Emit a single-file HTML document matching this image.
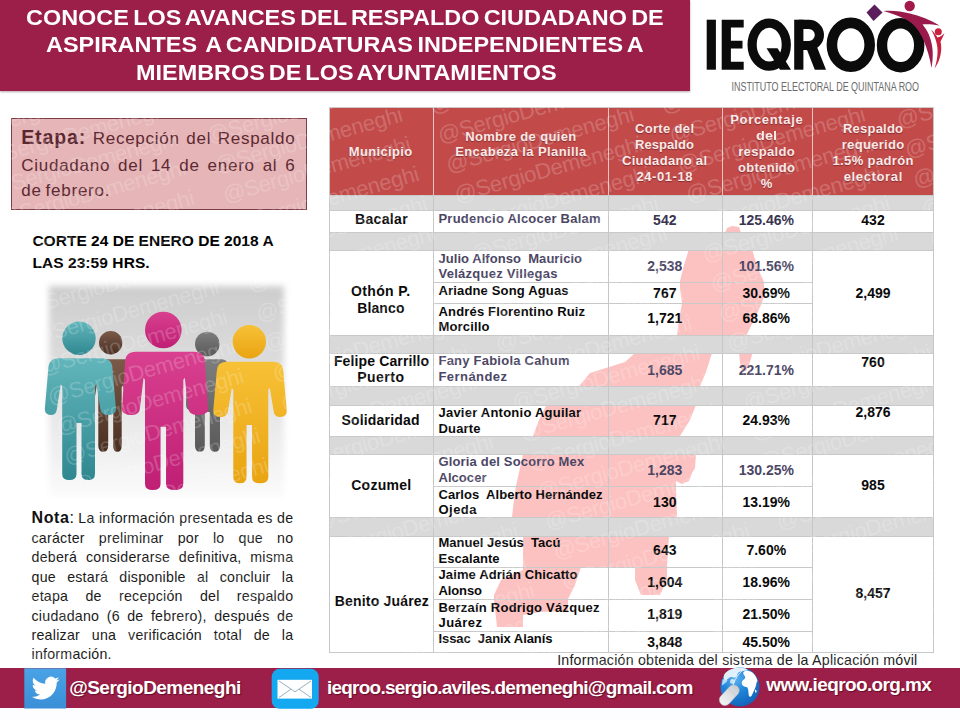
<!DOCTYPE html>
<html lang="es">
<head>
<meta charset="utf-8">
<title>IEQROO - Avances del respaldo ciudadano</title>
<style>
html,body{margin:0;padding:0;}
body{width:960px;height:720px;position:relative;overflow:hidden;background:#ffffff;font-family:"Liberation Sans",sans-serif;}
.abs{position:absolute;}
.t{position:absolute;white-space:pre;line-height:1;transform-origin:0 50%;}
.hdr{position:absolute;left:0;top:0;width:690px;height:91px;background:#9c1f49;box-shadow:0 1px 2px rgba(90,60,70,.45);}
.etapa{position:absolute;left:11px;top:118px;width:294px;height:90px;background:#e6b5b7;border:1px solid #7d3d48;}
.foot{position:absolute;left:0;top:668px;width:960px;height:40px;background:#9c1f49;}
.below{position:absolute;left:0;top:708px;width:960px;height:12px;background:#fdfdff;}
.th{position:absolute;top:107px;height:88px;background:#c24b4a;}
.gr{position:absolute;left:329px;width:604px;background:#d9d9d9;}
.vl{position:absolute;width:1px;background:#c6c6c6;}
.hl{position:absolute;height:1px;background:#c9c9c9;}
</style>
</head>
<body>
<div class="hdr"></div>
<div class="etapa"></div>
<div class="foot"></div>
<div class="below"></div>
<svg class="abs" style="left:0;top:0" width="960" height="720" viewBox="0 0 960 720">
<g fill="#fcc2c1">
<path d="M725 233 L727 228 L732 226 L739 227 L741 233 Z"/>
<path d="M689 249 L752 249 L757 266 L764 282 L764 297 L761 305 L755 318 L746 336 L738 345 L712 353 L706 372 L700 386 L697 398 L696 405 L690 420 L680 436 L686 446 L696 454 L695 468 L692 473 L689 481 L682 484 L676 481 L676 487 L677 516 L672 530 L669 536 L667 567 L667 580 L660 595 L641 595 L635 580 L635 567 L581 567 L575 585 L568 599 L568 611 L540 612 L523 615 L523 627 L497 627 L494 600 L494 595 L501 580 L523 570 L523 537 L518 528 L512 517 L514 500 L516 486 L523 454 L525 445 L533 436 L539 420 L546 406 L580 385 L590 373 L625 362 L635 353 L677 336 L679 320 L682 303 L680 290 L680 281 L684 265 Z"/>
<path d="M739 353 L752.5 353 L750 362 L746 371 L742 371 L740 362 Z"/>
</g>
</svg>
<div class="th" style="left:329px;width:104px"></div>
<div class="th" style="left:433px;width:175px"></div>
<div class="th" style="left:608px;width:114px"></div>
<div class="th" style="left:722px;width:90px"></div>
<div class="th" style="left:812px;width:121px"></div>
<div class="gr" style="top:195px;height:15px"></div>
<div class="gr" style="top:232px;height:18px"></div>
<div class="gr" style="top:335px;height:18px"></div>
<div class="gr" style="top:386px;height:19px"></div>
<div class="gr" style="top:436px;height:18px"></div>
<div class="gr" style="top:517px;height:19px"></div>
<div class="vl" style="left:329px;top:107px;height:545px"></div>
<div class="vl" style="left:433px;top:107px;height:545px"></div>
<div class="vl" style="left:608px;top:107px;height:545px"></div>
<div class="vl" style="left:722px;top:107px;height:545px"></div>
<div class="vl" style="left:812px;top:107px;height:545px"></div>
<div class="vl" style="left:933px;top:107px;height:545px"></div>
<div class="vl" style="left:433px;top:107px;height:88px;background:#e9c4c3"></div>
<div class="vl" style="left:608px;top:107px;height:88px;background:#e9c4c3"></div>
<div class="vl" style="left:722px;top:107px;height:88px;background:#e9c4c3"></div>
<div class="vl" style="left:812px;top:107px;height:88px;background:#e9c4c3"></div>
<div class="hl" style="left:329px;top:107px;width:605px"></div>
<div class="hl" style="left:329px;top:195px;width:605px"></div>
<div class="hl" style="left:329px;top:210px;width:605px"></div>
<div class="hl" style="left:329px;top:232px;width:605px"></div>
<div class="hl" style="left:329px;top:250px;width:605px"></div>
<div class="hl" style="left:329px;top:335px;width:605px"></div>
<div class="hl" style="left:329px;top:353px;width:605px"></div>
<div class="hl" style="left:329px;top:386px;width:605px"></div>
<div class="hl" style="left:329px;top:405px;width:605px"></div>
<div class="hl" style="left:329px;top:436px;width:605px"></div>
<div class="hl" style="left:329px;top:454px;width:605px"></div>
<div class="hl" style="left:329px;top:517px;width:605px"></div>
<div class="hl" style="left:329px;top:536px;width:605px"></div>
<div class="hl" style="left:329px;top:652px;width:605px"></div>
<div class="hl" style="left:433px;top:282px;width:379px"></div>
<div class="hl" style="left:433px;top:303px;width:379px"></div>
<div class="hl" style="left:433px;top:486px;width:379px"></div>
<div class="hl" style="left:433px;top:567px;width:379px"></div>
<div class="hl" style="left:433px;top:599px;width:379px"></div>
<div class="hl" style="left:433px;top:631px;width:379px"></div>
<svg class="abs" style="left:690px;top:0" width="270" height="100" viewBox="690 0 270 100">
<g fill="#0b0b0b">
<rect x="706.7" y="19.7" width="9.2" height="50"/>
<path d="M721.7 19.7 H743.7 V27.6 H730.9 V40.8 H742.5 V48.4 H730.9 V61.8 H743.7 V69.7 H721.7 Z"/>
<polygon points="766.5,48.3 777.5,48.3 791,69.7 780,69.7"/>
<rect x="794.2" y="19.7" width="9.2" height="50"/>
<polygon points="806.5,48.5 817,47 826,69.7 814.8,69.7"/>
</g>
<g fill="none" stroke="#0b0b0b">
<ellipse cx="769.2" cy="44.7" rx="17.1" ry="21.5" stroke-width="9.2"/>
<path d="M799 24.3 H808.8 A10.6 10.6 0 0 1 808.8 45.5 H799" stroke-width="9.2"/>
<ellipse cx="850.8" cy="44.8" rx="18.9" ry="21.9" stroke-width="10.6"/>
<ellipse cx="900.6" cy="45.2" rx="18.6" ry="22" stroke-width="10.4"/>
</g>
<!-- purple diamond -->
<polygon points="874.5,4.5 882.5,12.5 873.5,21 866.5,12.5" fill="#5b1d5c"/>
<!-- maroon figure -->
<circle cx="909.7" cy="6" r="5.2" fill="#a3194b"/>
<path d="M883.5 11 C892 10 902 11.5 910 13.5 C921 16 931 20.5 939.5 25.5 C933 24.5 927 24 922.5 24.5 C930 33 935.5 48 931.5 68 C930 58 927 48 923 39 C919 30 913 23 906 19.5 C899 16 891 13 883.5 11 Z" fill="#9a1b4b"/>
<!-- small red figure -->
<circle cx="938.3" cy="31.7" r="3.5" fill="#c6213f"/>
<path d="M931 29.5 C934 32 936 35 937.5 37.5 C941 36.5 942.5 35 944.5 33 C943 37 941.5 39.5 940.5 41.5 C942.5 50 940.5 60 934.5 68.5 C938 58 938.5 49 936 41 C935 37 933 33 931 29.5 Z" fill="#c6213f"/>
<text x="731.5" y="91.3" font-family="Liberation Sans, sans-serif" font-size="12.6" fill="#6b6b6b" textLength="187.5" lengthAdjust="spacingAndGlyphs">INSTITUTO ELECTORAL DE QUINTANA ROO</text>
</svg>
<svg class="abs" style="left:30px;top:270px" width="280" height="245" viewBox="30 270 280 245">
<defs>
<linearGradient id="bgg" x1="0" y1="0" x2="0" y2="1"><stop offset="0" stop-color="#cdcdcd"/><stop offset="0.55" stop-color="#e4e4e4"/><stop offset="1" stop-color="#fbfbfb"/></linearGradient>
<filter id="bl" x="-10%" y="-10%" width="120%" height="120%"><feGaussianBlur stdDeviation="3.2"/></filter>
<linearGradient id="gt" x1="0" y1="0" x2="0" y2="1"><stop offset="0" stop-color="#62b6bb"/><stop offset="1" stop-color="#2f8790"/></linearGradient>
<linearGradient id="gb" x1="0" y1="0" x2="0" y2="1"><stop offset="0" stop-color="#7b5a48"/><stop offset="1" stop-color="#4a2f22"/></linearGradient>
<linearGradient id="gp" x1="0" y1="0" x2="0" y2="1"><stop offset="0" stop-color="#d9408f"/><stop offset="1" stop-color="#bf1f74"/></linearGradient>
<linearGradient id="gg" x1="0" y1="0" x2="0" y2="1"><stop offset="0" stop-color="#7d7d7d"/><stop offset="1" stop-color="#5a5a5a"/></linearGradient>
<linearGradient id="gy" x1="0" y1="0" x2="0" y2="1"><stop offset="0" stop-color="#f7c136"/><stop offset="1" stop-color="#e9a412"/></linearGradient>
</defs>
<rect x="49" y="286" width="235" height="211" fill="url(#bgg)" filter="url(#bl)"/>
<g fill="url(#gb)"><circle cx="110.7" cy="342.7" r="11.7"/><path d="M96 359.3 H125 Q131 359.3 131 365.3 L132 404 Q132 410 127.35 410 Q126.2 410 126.03333333333333 403 L123.2 385.3 L121.7 387.3 L121.7 445.7 Q121.7 451.7 117.45 451.7 Q113.2 451.7 113.2 445.7 L113.2 412 L108.2 412 L108.2 445.7 Q108.2 451.7 103.25 451.7 Q98.3 451.7 98.3 445.7 L98.3 387.3 L96.8 385.3 L93.96666666666667 403 Q93.8 410 93.15 410 Q89 410 89 404 L90 365.3 Q90 359.3 96 359.3 Z"/></g>
<g fill="url(#gg)"><circle cx="207.3" cy="344" r="12.3"/><path d="M193 359.3 H221.5 Q227.5 359.3 227.5 365.3 L228.5 404 Q228.5 410 224.75 410 Q224.5 410 224.33333333333334 403 L221.5 385.3 L220 387.3 L220 445.7 Q220 451.7 214.9 451.7 Q209.8 451.7 209.8 445.7 L209.8 412 L204.8 412 L204.8 445.7 Q204.8 451.7 199.9 451.7 Q195 451.7 195 445.7 L195 387.3 L193.5 385.3 L190.66666666666666 403 Q190.5 410 190.0 410 Q186 410 186 404 L187 365.3 Q187 359.3 193 359.3 Z"/></g>
<g fill="url(#gt)"><circle cx="79" cy="338.3" r="16.7"/><path d="M59.3 358.3 H101.5 Q112.5 358.3 112.5 369.3 L116.0 409 Q116.0 415 107.25 415 Q100.75 415 100.16666666666667 408 L96.5 384.3 L95 386.3 L95 474 Q95 480 88.25 480 Q81.5 480 81.5 474 L81.5 423 L76.5 423 L76.5 474 Q76.5 480 69.35 480 Q62.2 480 62.2 474 L62.2 386.3 L60.7 384.3 L57.03333333333334 408 Q56.45 415 51.75 415 Q44.8 415 44.8 409 L48.3 369.3 Q48.3 358.3 59.3 358.3 Z"/></g>
<g fill="url(#gy)"><circle cx="249.3" cy="341.7" r="16.7"/><path d="M226.7 361.7 H273.3 Q283.3 361.7 283.3 371.7 L286.8 411 Q286.8 417 279.3 417 Q274.05 417 273.4666666666667 410 L269.8 387.7 L268.3 389.7 L268.3 477.3 Q268.3 483.3 260.175 483.3 Q252.05 483.3 252.05 477.3 L252.05 425 L246.55 425 L246.55 477.3 Q246.55 483.3 239.925 483.3 Q233.3 483.3 233.3 477.3 L233.3 389.7 L231.8 387.7 L228.13333333333335 410 Q227.55 417 221.5 417 Q213.2 417 213.2 411 L216.7 371.7 Q216.7 361.7 226.7 361.7 Z"/></g>
<g fill="url(#gp)"><circle cx="163.3" cy="330" r="18.3"/><path d="M136 351.7 H194 Q205 351.7 205 362.7 L208 409 Q208 415 197.15 415 Q188.8 415 188.3 408 L184.8 377.7 L183.3 379.7 L183.3 484 Q183.3 490 174.675 490 Q166.05 490 166.05 484 L166.05 426.7 L160.55 426.7 L160.55 484 Q160.55 490 152.775 490 Q145 490 145 484 L145 379.7 L143.5 377.7 L140.0 408 Q139.5 415 132.0 415 Q122 415 122 409 L125 362.7 Q125 351.7 136 351.7 Z"/></g>
</svg>
<svg class="abs" style="left:0;top:660px" width="960" height="60" viewBox="0 660 960 60">
<defs>
<linearGradient id="tw" x1="0" y1="0" x2="0" y2="1"><stop offset="0" stop-color="#4aa3e6"/><stop offset="1" stop-color="#3a8fd6"/></linearGradient>
<radialGradient id="gl" cx="0.38" cy="0.28" r="0.8"><stop offset="0" stop-color="#5fb3f0"/><stop offset="0.45" stop-color="#1f84d8"/><stop offset="1" stop-color="#0f5fb5"/></radialGradient>
<linearGradient id="ms" x1="0" y1="0" x2="1" y2="0"><stop offset="0" stop-color="#f4f4f4"/><stop offset="1" stop-color="#c9cdd2"/></linearGradient>
</defs>
<!-- twitter -->
<rect x="24.3" y="668.3" width="41.8" height="40.2" fill="url(#tw)"/>
<g transform="translate(31.6 674.1) scale(1.165)">
<path fill="#ffffff" d="M23.953 4.57a10 10 0 01-2.825.775 4.958 4.958 0 002.163-2.723c-.951.555-2.005.959-3.127 1.184a4.92 4.92 0 00-8.384 4.482C7.69 8.095 4.067 6.13 1.64 3.162a4.822 4.822 0 00-.666 2.475c0 1.71.87 3.213 2.188 4.096a4.904 4.904 0 01-2.228-.616v.06a4.923 4.923 0 003.946 4.827 4.996 4.996 0 01-2.212.085 4.936 4.936 0 004.604 3.417 9.867 9.867 0 01-6.102 2.105c-.39 0-.779-.023-1.17-.067a13.995 13.995 0 007.557 2.209c9.053 0 13.998-7.496 13.998-13.985 0-.21 0-.42-.015-.63A9.935 9.935 0 0024 4.59z"/>
</g>
<!-- mail -->
<rect x="271.7" y="668.8" width="47" height="40" rx="8" ry="8" fill="#14a8f1"/>
<rect x="277.5" y="679.8" width="34.5" height="18.8" fill="#ffffff"/>
<path d="M279 681 L295 691.8 L311 681 M279 697.5 L291 689.2 M311 697.5 L299 689.2" fill="none" stroke="#6c8fa3" stroke-width="0.7"/>
<!-- globe -->
<circle cx="740" cy="687" r="19.5" fill="url(#gl)"/>
<path d="M724.5 674 C728 669.5 734 667.6 741 667.8 C745 668 747 669 748 670.5 C744 671 741 670.5 738.5 672.5 C736.5 674.5 738 676 735.5 677.5 C733 678 731.5 676 729.5 677.5 C727.5 679 726.5 681 724.5 680 C723.3 678 723.5 676 724.5 674 Z" fill="#eef7fe" opacity="0.92"/>
<path d="M731 679.5 C733 678.5 735.5 679.5 735 682 C734 684 732 684.5 730.5 683 C729.8 681.8 730 680.3 731 679.5 Z" fill="#dfeffc" opacity="0.85"/>
<path d="M722.5 680 C724 678.5 726 679 727.5 680.5 C726 682.5 724.5 684 722 685.5 Z" fill="#d9eefc" opacity="0.8"/>
<path d="M744 671.5 C747 670 751 671 753.5 673.5 C755.5 675.5 757 678.5 757.5 681 C756 682.5 756.5 685 755.5 687 C754.5 689.5 753.5 692 752 695 C751 697 749.5 697.5 748.8 695.5 C748.3 692.5 748.5 690 747.5 687.5 C745.5 687 743 686.5 742 684.5 C741 682 742.5 680 744.5 679 C746 678 745 676 744 675 C743 674 743 672.5 744 671.5 Z" fill="#ffffff"/>
<path d="M755 690 C756 689 757 690.5 756.3 692.5 C755.5 693.5 754.7 692 755 690 Z" fill="#ffffff"/>
<path d="M733 686 C734.5 680 738 673.5 743.5 670" fill="none" stroke="#e8f2fa" stroke-width="0.9"/>
<g transform="translate(729.3 695.2) rotate(-47)">
<rect x="-12" y="-5.6" width="24" height="11.2" rx="5.6" ry="5.6" fill="url(#ms)" stroke="#b9bcc2" stroke-width="0.5"/>
<line x1="4" y1="-5.4" x2="4" y2="5.4" stroke="#c2c5ca" stroke-width="0.6"/>
</g>
</svg>
<div class="t" style="left:26.14px;top:8.30px;font-size:21.5px;font-weight:bold;color:#ffffff;transform:scaleX(1.0900);word-spacing:-2.034px;">CONOCE LOS AVANCES DEL RESPALDO CIUDADANO DE</div>
<div class="t" style="left:46.14px;top:35.30px;font-size:21.5px;font-weight:bold;color:#ffffff;transform:scaleX(1.0900);word-spacing:-1.817px;">ASPIRANTES  A CANDIDATURAS INDEPENDIENTES A</div>
<div class="t" style="left:136.14px;top:63.30px;font-size:21.5px;font-weight:bold;color:#ffffff;transform:scaleX(1.0900);word-spacing:-2.345px;">MIEMBROS DE LOS AYUNTAMIENTOS</div>
<div class="t" style="left:32.38px;top:232.88px;font-size:15.5px;font-weight:bold;color:#000;letter-spacing:0.024px;">CORTE 24 DE ENERO DE 2018 A</div>
<div class="t" style="left:32.38px;top:254.58px;font-size:15.5px;font-weight:bold;color:#000;letter-spacing:0.073px;">LAS 23:59 HRS.</div>
<div class="t" style="left:348.73px;top:145.20px;font-size:13px;font-weight:bold;color:#fbe9e8;letter-spacing:0.359px;text-shadow:0 1px 1px rgba(90,20,20,.55);">Municipio</div>
<div class="t" style="left:465.18px;top:129.60px;font-size:13px;font-weight:bold;color:#fbe9e8;letter-spacing:0.347px;text-shadow:0 1px 1px rgba(90,20,20,.55);">Nombre de quien</div>
<div class="t" style="left:455.18px;top:145.20px;font-size:13px;font-weight:bold;color:#fbe9e8;letter-spacing:0.394px;text-shadow:0 1px 1px rgba(90,20,20,.55);">Encabeza la Planilla</div>
<div class="t" style="left:634.98px;top:121.60px;font-size:13px;font-weight:bold;color:#fbe9e8;letter-spacing:0.337px;text-shadow:0 1px 1px rgba(90,20,20,.55);">Corte del</div>
<div class="t" style="left:634.98px;top:137.60px;font-size:13px;font-weight:bold;color:#fbe9e8;letter-spacing:0.075px;text-shadow:0 1px 1px rgba(90,20,20,.55);">Respaldo</div>
<div class="t" style="left:621.98px;top:153.60px;font-size:13px;font-weight:bold;color:#fbe9e8;letter-spacing:0.310px;text-shadow:0 1px 1px rgba(90,20,20,.55);">Ciudadano al</div>
<div class="t" style="left:636.48px;top:169.60px;font-size:13px;font-weight:bold;color:#fbe9e8;letter-spacing:0.570px;text-shadow:0 1px 1px rgba(90,20,20,.55);">24-01-18</div>
<div class="t" style="left:730.23px;top:113.00px;font-size:13px;font-weight:bold;color:#fbe9e8;letter-spacing:0.673px;text-shadow:0 1px 1px rgba(90,20,20,.55);">Porcentaje</div>
<div class="t" style="left:755.98px;top:129.00px;font-size:13px;font-weight:bold;color:#fbe9e8;transform:scaleX(1.1193);text-shadow:0 1px 1px rgba(90,20,20,.55);">del</div>
<div class="t" style="left:738.23px;top:145.00px;font-size:13px;font-weight:bold;color:#fbe9e8;letter-spacing:0.336px;text-shadow:0 1px 1px rgba(90,20,20,.55);">respaldo</div>
<div class="t" style="left:737.98px;top:161.00px;font-size:13px;font-weight:bold;color:#fbe9e8;letter-spacing:0.307px;text-shadow:0 1px 1px rgba(90,20,20,.55);">obtenido</div>
<div class="t" style="left:760.72px;top:177.00px;font-size:13px;font-weight:bold;color:#fbe9e8;letter-spacing:0.977px;text-shadow:0 1px 1px rgba(90,20,20,.55);">%</div>
<div class="t" style="left:842.98px;top:121.60px;font-size:13px;font-weight:bold;color:#fbe9e8;letter-spacing:0.218px;text-shadow:0 1px 1px rgba(90,20,20,.55);">Respaldo</div>
<div class="t" style="left:841.73px;top:137.60px;font-size:13px;font-weight:bold;color:#fbe9e8;letter-spacing:0.321px;text-shadow:0 1px 1px rgba(90,20,20,.55);">requerido</div>
<div class="t" style="left:832.48px;top:153.60px;font-size:13px;font-weight:bold;color:#fbe9e8;letter-spacing:0.374px;text-shadow:0 1px 1px rgba(90,20,20,.55);">1.5% padrón</div>
<div class="t" style="left:843.73px;top:169.60px;font-size:13px;font-weight:bold;color:#fbe9e8;letter-spacing:0.632px;text-shadow:0 1px 1px rgba(90,20,20,.55);">electoral</div>
<div class="t" style="left:354.99px;top:211.55px;font-size:14px;font-weight:bold;color:#0a0a0a;letter-spacing:0.338px;">Bacalar</div>
<div class="t" style="left:350.94px;top:284.35px;font-size:14px;font-weight:bold;color:#0a0a0a;letter-spacing:0.370px;">Othón P.</div>
<div class="t" style="left:357.34px;top:300.95px;font-size:14px;font-weight:bold;color:#0a0a0a;letter-spacing:0.086px;">Blanco</div>
<div class="t" style="left:333.94px;top:354.15px;font-size:14px;font-weight:bold;color:#0a0a0a;letter-spacing:0.126px;">Felipe Carrillo</div>
<div class="t" style="left:357.24px;top:369.65px;font-size:14px;font-weight:bold;color:#0a0a0a;letter-spacing:0.475px;">Puerto</div>
<div class="t" style="left:341.44px;top:413.45px;font-size:14px;font-weight:bold;color:#0a0a0a;letter-spacing:0.189px;">Solidaridad</div>
<div class="t" style="left:351.14px;top:478.45px;font-size:14px;font-weight:bold;color:#0a0a0a;letter-spacing:0.296px;">Cozumel</div>
<div class="t" style="left:334.74px;top:594.15px;font-size:14px;font-weight:bold;color:#0a0a0a;letter-spacing:0.192px;">Benito Juárez</div>
<div class="t" style="left:438.48px;top:211.50px;font-size:13px;font-weight:bold;color:#4b4664;letter-spacing:0.228px;">Prudencio Alcocer Balam</div>
<div class="t" style="left:438.48px;top:251.50px;font-size:13px;font-weight:bold;color:#4b4664;letter-spacing:0.046px;">Julio Alfonso  Mauricio</div>
<div class="t" style="left:438.48px;top:267.00px;font-size:13px;font-weight:bold;color:#4b4664;letter-spacing:0.258px;">Velázquez Villegas</div>
<div class="t" style="left:438.48px;top:283.70px;font-size:13px;font-weight:bold;color:#0a0a0a;letter-spacing:0.157px;">Ariadne Song Aguas</div>
<div class="t" style="left:438.48px;top:305.00px;font-size:13px;font-weight:bold;color:#0a0a0a;letter-spacing:0.173px;">Andrés Florentino Ruiz</div>
<div class="t" style="left:438.48px;top:320.25px;font-size:13px;font-weight:bold;color:#0a0a0a;letter-spacing:0.171px;">Morcillo</div>
<div class="t" style="left:438.48px;top:354.00px;font-size:13px;font-weight:bold;color:#4b4664;letter-spacing:0.229px;">Fany Fabiola Cahum</div>
<div class="t" style="left:438.48px;top:369.60px;font-size:13px;font-weight:bold;color:#4b4664;letter-spacing:0.441px;">Fernández</div>
<div class="t" style="left:438.48px;top:405.90px;font-size:13px;font-weight:bold;color:#0a0a0a;letter-spacing:0.234px;">Javier Antonio Aguilar</div>
<div class="t" style="left:438.48px;top:421.50px;font-size:13px;font-weight:bold;color:#0a0a0a;letter-spacing:0.170px;">Duarte</div>
<div class="t" style="left:438.48px;top:455.25px;font-size:13px;font-weight:bold;color:#4b4664;letter-spacing:0.162px;">Gloria del Socorro Mex</div>
<div class="t" style="left:438.48px;top:470.90px;font-size:13px;font-weight:bold;color:#4b4664;letter-spacing:0.056px;">Alcocer</div>
<div class="t" style="left:438.48px;top:487.75px;font-size:13px;font-weight:bold;color:#0a0a0a;letter-spacing:0.052px;">Carlos  Alberto Hernández</div>
<div class="t" style="left:438.48px;top:503.40px;font-size:13px;font-weight:bold;color:#0a0a0a;letter-spacing:0.479px;">Ojeda</div>
<div class="t" style="left:438.48px;top:536.20px;font-size:13px;font-weight:bold;color:#0a0a0a;letter-spacing:0.011px;">Manuel Jesús  Tacú</div>
<div class="t" style="left:438.48px;top:551.80px;font-size:13px;font-weight:bold;color:#0a0a0a;letter-spacing:0.042px;">Escalante</div>
<div class="t" style="left:438.48px;top:568.40px;font-size:13px;font-weight:bold;color:#0a0a0a;letter-spacing:0.113px;">Jaime Adrián Chicatto</div>
<div class="t" style="left:438.48px;top:584.00px;font-size:13px;font-weight:bold;color:#0a0a0a;letter-spacing:-0.105px;">Alonso</div>
<div class="t" style="left:438.48px;top:600.60px;font-size:13px;font-weight:bold;color:#0a0a0a;letter-spacing:0.228px;">Berzaín Rodrigo Vázquez</div>
<div class="t" style="left:438.48px;top:616.20px;font-size:13px;font-weight:bold;color:#0a0a0a;letter-spacing:0.467px;">Juárez</div>
<div class="t" style="left:438.48px;top:631.80px;font-size:13px;font-weight:bold;color:#0a0a0a;letter-spacing:-0.061px;">Issac  Janix Alanís</div>
<div class="t" style="left:653.12px;top:213.15px;font-size:14px;font-weight:bold;color:#3a3550;">542</div>
<div class="t" style="left:738.66px;top:213.15px;font-size:14px;font-weight:bold;color:#3a3550;">125.46%</div>
<div class="t" style="left:647.28px;top:258.95px;font-size:14px;font-weight:bold;color:#4b4664;">2,538</div>
<div class="t" style="left:738.66px;top:258.95px;font-size:14px;font-weight:bold;color:#4b4664;">101.56%</div>
<div class="t" style="left:653.12px;top:285.55px;font-size:14px;font-weight:bold;color:#0a0a0a;">767</div>
<div class="t" style="left:742.56px;top:285.55px;font-size:14px;font-weight:bold;color:#0a0a0a;">30.69%</div>
<div class="t" style="left:647.28px;top:311.35px;font-size:14px;font-weight:bold;color:#0a0a0a;">1,721</div>
<div class="t" style="left:742.56px;top:311.35px;font-size:14px;font-weight:bold;color:#0a0a0a;">68.86%</div>
<div class="t" style="left:647.28px;top:362.75px;font-size:14px;font-weight:bold;color:#4b4664;">1,685</div>
<div class="t" style="left:738.66px;top:362.75px;font-size:14px;font-weight:bold;color:#4b4664;">221.71%</div>
<div class="t" style="left:653.12px;top:413.05px;font-size:14px;font-weight:bold;color:#0a0a0a;">717</div>
<div class="t" style="left:742.56px;top:413.05px;font-size:14px;font-weight:bold;color:#0a0a0a;">24.93%</div>
<div class="t" style="left:647.28px;top:462.85px;font-size:14px;font-weight:bold;color:#4b4664;">1,283</div>
<div class="t" style="left:738.66px;top:462.85px;font-size:14px;font-weight:bold;color:#4b4664;">130.25%</div>
<div class="t" style="left:653.12px;top:494.75px;font-size:14px;font-weight:bold;color:#0a0a0a;">130</div>
<div class="t" style="left:742.56px;top:494.75px;font-size:14px;font-weight:bold;color:#0a0a0a;">13.19%</div>
<div class="t" style="left:653.12px;top:543.25px;font-size:14px;font-weight:bold;color:#0a0a0a;">643</div>
<div class="t" style="left:746.45px;top:543.25px;font-size:14px;font-weight:bold;color:#0a0a0a;">7.60%</div>
<div class="t" style="left:647.28px;top:575.15px;font-size:14px;font-weight:bold;color:#0a0a0a;">1,604</div>
<div class="t" style="left:742.56px;top:575.15px;font-size:14px;font-weight:bold;color:#0a0a0a;">18.96%</div>
<div class="t" style="left:647.28px;top:607.05px;font-size:14px;font-weight:bold;color:#0a0a0a;">1,819</div>
<div class="t" style="left:742.56px;top:607.05px;font-size:14px;font-weight:bold;color:#0a0a0a;">21.50%</div>
<div class="t" style="left:647.28px;top:634.65px;font-size:14px;font-weight:bold;color:#0a0a0a;">3,848</div>
<div class="t" style="left:742.56px;top:634.65px;font-size:14px;font-weight:bold;color:#0a0a0a;">45.50%</div>
<div class="t" style="left:861.32px;top:213.15px;font-size:14px;font-weight:bold;color:#0a0a0a;">432</div>
<div class="t" style="left:855.48px;top:285.55px;font-size:14px;font-weight:bold;color:#0a0a0a;">2,499</div>
<div class="t" style="left:861.32px;top:354.55px;font-size:14px;font-weight:bold;color:#0a0a0a;">760</div>
<div class="t" style="left:855.48px;top:405.15px;font-size:14px;font-weight:bold;color:#0a0a0a;">2,876</div>
<div class="t" style="left:861.32px;top:478.45px;font-size:14px;font-weight:bold;color:#0a0a0a;">985</div>
<div class="t" style="left:855.48px;top:586.45px;font-size:14px;font-weight:bold;color:#0a0a0a;">8,457</div>
<div class="t" style="left:557.13px;top:652.88px;font-size:14.2px;font-weight:normal;color:#222;letter-spacing:0.229px;">Información obtenida del sistema de la Aplicación móvil</div>
<div class="t" style="left:69.24px;top:678.42px;font-size:19px;font-weight:bold;color:#ffffff;letter-spacing:-0.537px;text-shadow:1px 1px 1px rgba(60,0,20,.6);">@SergioDemeneghi</div>
<div class="t" style="left:326.94px;top:678.42px;font-size:19px;font-weight:bold;color:#ffffff;letter-spacing:-0.770px;text-shadow:1px 1px 1px rgba(60,0,20,.6);">ieqroo.sergio.aviles.demeneghi@gmail.com</div>
<div class="t" style="left:766.24px;top:674.92px;font-size:19px;font-weight:bold;color:#ffffff;letter-spacing:-0.630px;text-shadow:1px 1px 1px rgba(60,0,20,.6);">www.ieqroo.org.mx</div>
<div class="t" style="left:21.20px;top:128.49px;font-size:19.5px;word-spacing:1.011px"><span style="font-size:19.5px;font-weight:bold;color:#5a2630;letter-spacing:0.9px">Etapa:</span><span style="font-size:17.0px;font-weight:normal;color:#5c2933;letter-spacing:0.75px"> Recepción del Respaldo</span></div>
<div class="t" style="left:21.20px;top:157.31px;font-size:17.0px;word-spacing:2.425px"><span style="font-size:17.0px;font-weight:normal;color:#5c2933;letter-spacing:0.75px">Ciudadano del 14 de enero al 6</span></div>
<div class="t" style="left:21.20px;top:182.31px;font-size:17.0px;word-spacing:-1.484px"><span style="font-size:17.0px;font-weight:normal;color:#5c2933;letter-spacing:0.75px">de febrero.</span></div>
<div class="t" style="left:31.50px;top:509.86px;font-size:16px;word-spacing:0.157px"><span style="font-size:16px;font-weight:bold;color:#111;letter-spacing:0.6px">Nota</span><span style="font-size:16px;font-weight:normal;color:#111;letter-spacing:0px">:</span><span style="font-size:14.2px;font-weight:normal;color:#1a1a1a;letter-spacing:0.25px"> La información presentada es de</span></div>
<div class="t" style="left:31.50px;top:530.81px;font-size:14.2px;word-spacing:9.860px"><span style="font-size:14.2px;font-weight:normal;color:#1a1a1a;letter-spacing:0.25px">carácter preliminar por lo que no</span></div>
<div class="t" style="left:31.50px;top:550.24px;font-size:14.2px;word-spacing:4.538px"><span style="font-size:14.2px;font-weight:normal;color:#1a1a1a;letter-spacing:0.25px">deberá considerarse definitiva, misma</span></div>
<div class="t" style="left:31.50px;top:569.67px;font-size:14.2px;word-spacing:7.023px"><span style="font-size:14.2px;font-weight:normal;color:#1a1a1a;letter-spacing:0.25px">que estará disponible al concluir la</span></div>
<div class="t" style="left:31.50px;top:589.10px;font-size:14.2px;word-spacing:13.028px"><span style="font-size:14.2px;font-weight:normal;color:#1a1a1a;letter-spacing:0.25px">etapa de recepción del respaldo</span></div>
<div class="t" style="left:31.50px;top:608.53px;font-size:14.2px;word-spacing:3.235px"><span style="font-size:14.2px;font-weight:normal;color:#1a1a1a;letter-spacing:0.25px">ciudadano (6 de febrero), después de</span></div>
<div class="t" style="left:31.50px;top:627.96px;font-size:14.2px;word-spacing:7.607px"><span style="font-size:14.2px;font-weight:normal;color:#1a1a1a;letter-spacing:0.25px">realizar una verificación total de la</span></div>
<div class="t" style="left:31.50px;top:647.39px;font-size:14.2px;word-spacing:0.000px"><span style="font-size:14.2px;font-weight:normal;color:#1a1a1a;letter-spacing:0.25px">información.</span></div>
<svg class="abs" style="left:0;top:93px;pointer-events:none" width="960" height="574" viewBox="0 93 960 574">
<g transform="rotate(-15.5)" fill="#ffffff" fill-opacity="0.2" font-family="Liberation Sans, sans-serif" font-size="22" letter-spacing="-0.3">
<text x="-59.9" y="-28.6">@SergioDemeneghi</text>
<text x="-59.9" y="2.3">@SergioDemeneghi</text>
<text x="-59.9" y="33.1">@SergioDemeneghi</text>
<text x="163.1" y="39.4">@SergioDemeneghi</text>
<text x="-59.9" y="64.0">@SergioDemeneghi</text>
<text x="163.1" y="70.3">@SergioDemeneghi</text>
<text x="-59.9" y="94.9">@SergioDemeneghi</text>
<text x="163.1" y="101.2">@SergioDemeneghi</text>
<text x="386.1" y="101.2">@SergioDemeneghi</text>
<text x="-59.9" y="125.7">@SergioDemeneghi</text>
<text x="163.1" y="132.0">@SergioDemeneghi</text>
<text x="386.1" y="132.0">@SergioDemeneghi</text>
<text x="-59.9" y="156.5">@SergioDemeneghi</text>
<text x="163.1" y="162.8">@SergioDemeneghi</text>
<text x="386.1" y="162.8">@SergioDemeneghi</text>
<text x="609.1" y="162.8">@SergioDemeneghi</text>
<text x="-59.9" y="187.4">@SergioDemeneghi</text>
<text x="163.1" y="193.7">@SergioDemeneghi</text>
<text x="386.1" y="193.7">@SergioDemeneghi</text>
<text x="609.1" y="193.7">@SergioDemeneghi</text>
<text x="-282.9" y="218.2">@SergioDemeneghi</text>
<text x="-59.9" y="218.2">@SergioDemeneghi</text>
<text x="163.1" y="224.6">@SergioDemeneghi</text>
<text x="386.1" y="224.6">@SergioDemeneghi</text>
<text x="609.1" y="224.6">@SergioDemeneghi</text>
<text x="832.1" y="240.0">@SergioDemeneghi</text>
<text x="-282.9" y="249.1">@SergioDemeneghi</text>
<text x="-59.9" y="249.1">@SergioDemeneghi</text>
<text x="163.1" y="255.4">@SergioDemeneghi</text>
<text x="386.1" y="255.4">@SergioDemeneghi</text>
<text x="609.1" y="255.4">@SergioDemeneghi</text>
<text x="832.1" y="270.8">@SergioDemeneghi</text>
<text x="-282.9" y="279.9">@SergioDemeneghi</text>
<text x="-59.9" y="279.9">@SergioDemeneghi</text>
<text x="163.1" y="286.2">@SergioDemeneghi</text>
<text x="386.1" y="286.2">@SergioDemeneghi</text>
<text x="609.1" y="286.2">@SergioDemeneghi</text>
<text x="832.1" y="301.7">@SergioDemeneghi</text>
<text x="-282.9" y="310.8">@SergioDemeneghi</text>
<text x="-59.9" y="310.8">@SergioDemeneghi</text>
<text x="163.1" y="317.1">@SergioDemeneghi</text>
<text x="386.1" y="317.1">@SergioDemeneghi</text>
<text x="609.1" y="317.1">@SergioDemeneghi</text>
<text x="832.1" y="332.5">@SergioDemeneghi</text>
<text x="-282.9" y="341.7">@SergioDemeneghi</text>
<text x="-59.9" y="341.7">@SergioDemeneghi</text>
<text x="163.1" y="348.0">@SergioDemeneghi</text>
<text x="386.1" y="348.0">@SergioDemeneghi</text>
<text x="609.1" y="348.0">@SergioDemeneghi</text>
<text x="832.1" y="363.4">@SergioDemeneghi</text>
<text x="-282.9" y="372.5">@SergioDemeneghi</text>
<text x="-59.9" y="372.5">@SergioDemeneghi</text>
<text x="163.1" y="378.8">@SergioDemeneghi</text>
<text x="386.1" y="378.8">@SergioDemeneghi</text>
<text x="609.1" y="378.8">@SergioDemeneghi</text>
<text x="832.1" y="394.2">@SergioDemeneghi</text>
<text x="-282.9" y="403.3">@SergioDemeneghi</text>
<text x="-59.9" y="403.3">@SergioDemeneghi</text>
<text x="163.1" y="409.6">@SergioDemeneghi</text>
<text x="386.1" y="409.6">@SergioDemeneghi</text>
<text x="609.1" y="409.6">@SergioDemeneghi</text>
<text x="832.1" y="425.1">@SergioDemeneghi</text>
<text x="-282.9" y="434.2">@SergioDemeneghi</text>
<text x="-59.9" y="434.2">@SergioDemeneghi</text>
<text x="163.1" y="440.5">@SergioDemeneghi</text>
<text x="386.1" y="440.5">@SergioDemeneghi</text>
<text x="609.1" y="440.5">@SergioDemeneghi</text>
<text x="832.1" y="455.9">@SergioDemeneghi</text>
<text x="-282.9" y="465.1">@SergioDemeneghi</text>
<text x="-59.9" y="465.1">@SergioDemeneghi</text>
<text x="163.1" y="471.4">@SergioDemeneghi</text>
<text x="386.1" y="471.4">@SergioDemeneghi</text>
<text x="609.1" y="471.4">@SergioDemeneghi</text>
<text x="832.1" y="486.8">@SergioDemeneghi</text>
<text x="-282.9" y="495.9">@SergioDemeneghi</text>
<text x="-59.9" y="495.9">@SergioDemeneghi</text>
<text x="163.1" y="502.2">@SergioDemeneghi</text>
<text x="386.1" y="502.2">@SergioDemeneghi</text>
<text x="609.1" y="502.2">@SergioDemeneghi</text>
<text x="832.1" y="517.6">@SergioDemeneghi</text>
<text x="-282.9" y="526.8">@SergioDemeneghi</text>
<text x="-59.9" y="526.8">@SergioDemeneghi</text>
<text x="163.1" y="533.1">@SergioDemeneghi</text>
<text x="386.1" y="533.1">@SergioDemeneghi</text>
<text x="609.1" y="533.1">@SergioDemeneghi</text>
<text x="832.1" y="548.5">@SergioDemeneghi</text>
<text x="-282.9" y="557.6">@SergioDemeneghi</text>
<text x="-59.9" y="557.6">@SergioDemeneghi</text>
<text x="163.1" y="563.9">@SergioDemeneghi</text>
<text x="386.1" y="563.9">@SergioDemeneghi</text>
<text x="609.1" y="563.9">@SergioDemeneghi</text>
<text x="832.1" y="579.3">@SergioDemeneghi</text>
<text x="-282.9" y="588.5">@SergioDemeneghi</text>
<text x="-59.9" y="588.5">@SergioDemeneghi</text>
<text x="163.1" y="594.8">@SergioDemeneghi</text>
<text x="386.1" y="594.8">@SergioDemeneghi</text>
<text x="609.1" y="594.8">@SergioDemeneghi</text>
<text x="832.1" y="610.2">@SergioDemeneghi</text>
<text x="-282.9" y="619.3">@SergioDemeneghi</text>
<text x="-59.9" y="619.3">@SergioDemeneghi</text>
<text x="163.1" y="625.6">@SergioDemeneghi</text>
<text x="386.1" y="625.6">@SergioDemeneghi</text>
<text x="609.1" y="625.6">@SergioDemeneghi</text>
<text x="832.1" y="641.0">@SergioDemeneghi</text>
<text x="-282.9" y="650.2">@SergioDemeneghi</text>
<text x="-59.9" y="650.2">@SergioDemeneghi</text>
<text x="163.1" y="656.5">@SergioDemeneghi</text>
<text x="386.1" y="656.5">@SergioDemeneghi</text>
<text x="609.1" y="656.5">@SergioDemeneghi</text>
<text x="832.1" y="671.9">@SergioDemeneghi</text>
<text x="-282.9" y="681.0">@SergioDemeneghi</text>
<text x="-59.9" y="681.0">@SergioDemeneghi</text>
<text x="163.1" y="687.3">@SergioDemeneghi</text>
<text x="386.1" y="687.3">@SergioDemeneghi</text>
<text x="609.1" y="687.3">@SergioDemeneghi</text>
<text x="-282.9" y="711.9">@SergioDemeneghi</text>
<text x="-59.9" y="711.9">@SergioDemeneghi</text>
<text x="163.1" y="718.1">@SergioDemeneghi</text>
<text x="386.1" y="718.1">@SergioDemeneghi</text>
<text x="609.1" y="718.1">@SergioDemeneghi</text>
<text x="-59.9" y="742.7">@SergioDemeneghi</text>
<text x="163.1" y="749.0">@SergioDemeneghi</text>
<text x="386.1" y="749.0">@SergioDemeneghi</text>
<text x="609.1" y="749.0">@SergioDemeneghi</text>
<text x="-59.9" y="773.6">@SergioDemeneghi</text>
<text x="163.1" y="779.9">@SergioDemeneghi</text>
<text x="386.1" y="779.9">@SergioDemeneghi</text>
<text x="609.1" y="779.9">@SergioDemeneghi</text>
<text x="163.1" y="810.7">@SergioDemeneghi</text>
<text x="386.1" y="810.7">@SergioDemeneghi</text>
<text x="609.1" y="810.7">@SergioDemeneghi</text>
<text x="163.1" y="841.5">@SergioDemeneghi</text>
<text x="386.1" y="841.5">@SergioDemeneghi</text>
<text x="609.1" y="841.5">@SergioDemeneghi</text>
<text x="386.1" y="872.4">@SergioDemeneghi</text>
<text x="609.1" y="872.4">@SergioDemeneghi</text>
<text x="386.1" y="903.2">@SergioDemeneghi</text>
<text x="609.1" y="903.2">@SergioDemeneghi</text>
<text x="609.1" y="934.1">@SergioDemeneghi</text>
<text x="609.1" y="965.0">@SergioDemeneghi</text>
</g></svg>
</body>
</html>
